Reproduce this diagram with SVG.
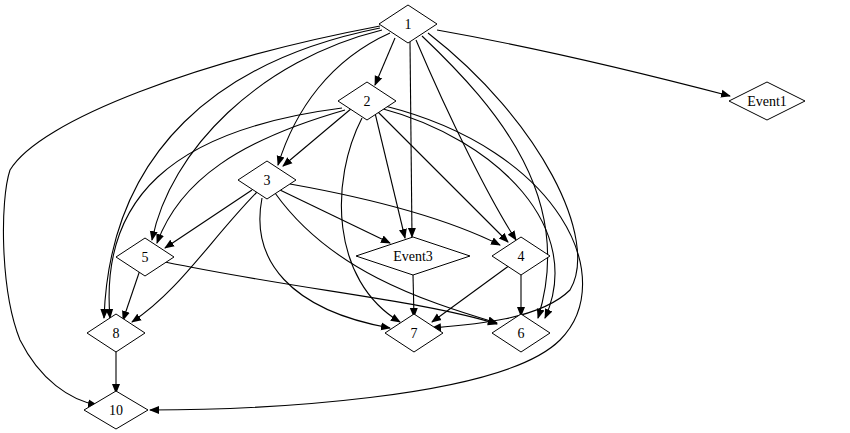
<svg xmlns="http://www.w3.org/2000/svg" width="850" height="433" viewBox="0 0 850 433">
<style>
.n polygon{fill:#fff;stroke:#000;stroke-width:1}
.n text{font-family:"Liberation Serif",serif;font-size:14px;text-anchor:middle;fill:#000}
#edges path{fill:none;stroke:#000;stroke-width:1.1;marker-end:url(#a)}
</style>
<defs><marker id="a" viewBox="0 0 10 10" refX="9" refY="5" markerWidth="10" markerHeight="10" markerUnits="userSpaceOnUse" orient="auto"><path d="M0,1 L10,5 L0,9 Z" fill="#000"/></marker></defs>
<rect width="850" height="433" fill="#fff"/>
<g id="edges">
<path d="M437,30 C550,50 650,75 730,96"/>
<path d="M395,38 L375,85"/>
<path d="M390,33 C330,60 295,110 278,165"/>
<path d="M382,30 C260,60 170,150 152,240"/>
<path d="M380,28 C220,60 110,150 104,318"/>
<path d="M380,26 C200,60 40,120 10,170 C0,200 0,290 20,340 C40,380 70,400 97,405"/>
<path d="M410,42 L412,237"/>
<path d="M416,40 C450,120 490,200 516,240"/>
<path d="M422,36 C500,110 575,200 538,318"/>
<path d="M428,33 C540,120 600,240 570,290 C540,320 470,325 432,328"/>
<path d="M380,108 C500,140 585,230 545,318"/>
<path d="M385,106 C560,150 620,280 560,340 C500,400 250,410 150,410"/>
<path d="M352,108 L283,166"/>
<path d="M345,110 C240,140 180,180 157,243"/>
<path d="M342,108 C170,130 100,200 110,318"/>
<path d="M375,113 L405,238"/>
<path d="M378,112 L508,242"/>
<path d="M362,118 C330,180 330,280 400,322"/>
<path d="M252,190 L165,248"/>
<path d="M257,192 C210,240 180,290 132,322"/>
<path d="M280,190 L390,243"/>
<path d="M290,184 C380,200 450,220 500,245"/>
<path d="M262,198 C250,260 290,310 390,328"/>
<path d="M275,193 C330,270 420,300 497,323"/>
<path d="M140,270 L123,320"/>
<path d="M165,262 C300,290 420,300 497,324"/>
<path d="M413,275 L414,317"/>
<path d="M510,265 L432,322"/>
<path d="M521,275 L521,316"/>
<path d="M116,351 L116,393"/>
</g>
<g id="n1" class="n"><polygon points="408,5 437,24 408,43 379,24"/><text x="408" y="29">1</text></g>
<g id="n2" class="n"><polygon points="367,82 396,101 367,120 338,101"/><text x="367" y="106">2</text></g>
<g id="nEvent1" class="n"><polygon points="767,82 805,101 767,120 729,101"/><text x="767" y="106">Event1</text></g>
<g id="n3" class="n"><polygon points="267,161 296,180 267,199 238,180"/><text x="267" y="185">3</text></g>
<g id="n5" class="n"><polygon points="145,238 174,257 145,276 116,257"/><text x="145" y="262">5</text></g>
<g id="nEvent3" class="n"><polygon points="413,237 470,256 413,275 356,256"/><text x="413" y="261">Event3</text></g>
<g id="n4" class="n"><polygon points="521,237 550,256 521,275 492,256"/><text x="521" y="261">4</text></g>
<g id="n8" class="n"><polygon points="116,314 145,333 116,352 87,333"/><text x="116" y="338">8</text></g>
<g id="n7" class="n"><polygon points="414,314 443,333 414,352 385,333"/><text x="414" y="338">7</text></g>
<g id="n6" class="n"><polygon points="521,314 550,333 521,352 492,333"/><text x="521" y="338">6</text></g>
<g id="n10" class="n"><polygon points="116,391 148,410 116,429 84,410"/><text x="116" y="415">10</text></g>
</svg>
